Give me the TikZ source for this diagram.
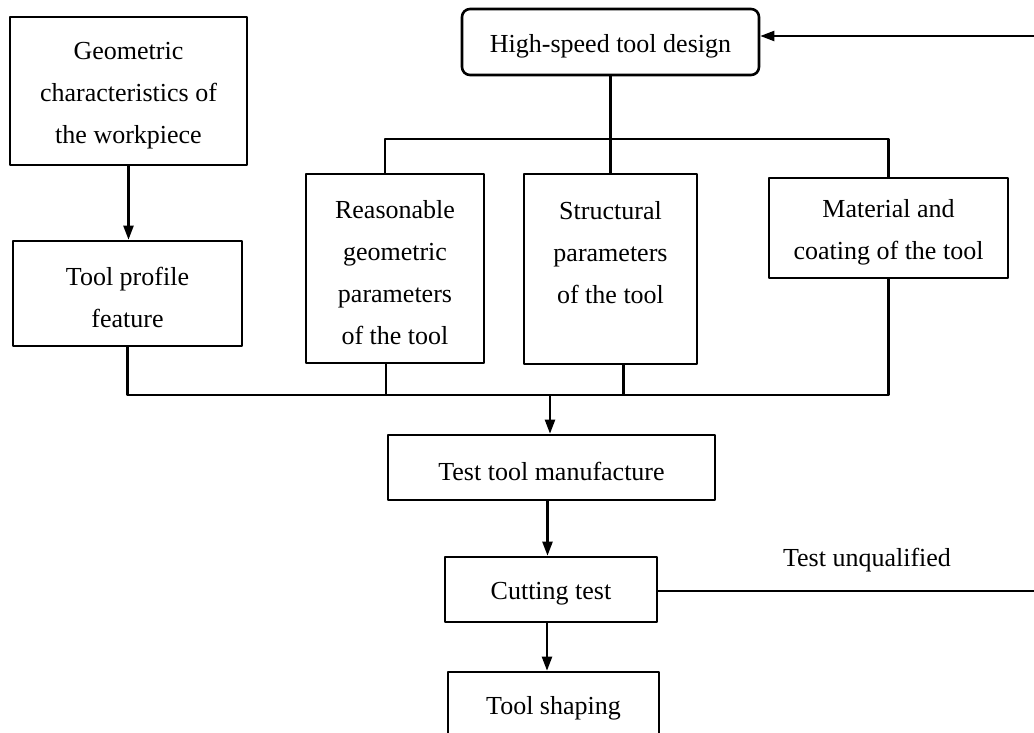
\documentclass[tikz,border=0pt]{standalone}
\usepackage{fontspec}
\setmainfont{Liberation Serif}
\usetikzlibrary{arrows.meta}
\begin{document}
\begin{tikzpicture}[x=1pt,y=-1pt, line join=round, >={Triangle[length=14pt,width=10pt]},
	box/.style={draw, line width=2.6pt, align=center, inner sep=0pt, text height=26pt, font=\fontsize{26}{42}\selectfont},
	conn/.style={line width=2.2pt}]
				\clip (0,0) rectangle (1034,733);
				%\draw[thin,color=gray!50] (0,0) grid[step=50] (1034,733);
				\node[box, text height=110pt, minimum width=237, minimum height=148] (geo) at (128.5,91) {Geometric\\characteristics of\\the workpiece};
				\node[box, text height=68pt, minimum width=229, minimum height=105] (profile) at (127.5,293.5) {Tool profile\\feature};
				\node[box, rounded corners=8pt, minimum width=297, minimum height=66] (design) at (610.5,42) {High-speed tool design};
				\node[box, text height=152pt, minimum width=178, minimum height=189] (reason) at (395,268.5) {Reasonable\\geometric\\parameters\\of the tool};
				\node[box, text height=152pt, minimum width=173, minimum height=190] (struct) at (610.5,269) {Structural\\parameters\\of the tool\\\mbox{}};
				\node[box, text height=68pt, minimum width=239, minimum height=100] (mat) at (888.5,228) {Material and\\coating of the tool};
				\node[box, minimum width=327, minimum height=65] (manuf) at (551.5,467.5) {Test tool manufacture};
				\node[box, minimum width=212, minimum height=65] (cut) at (551,589.5) {Cutting test};
				\node[box, minimum width=211, minimum height=65] (shape) at (553.5,704.5) {Tool shaping};
				\node[font=\fontsize{26}{42}\selectfont] (fail) at (867,560) {Test unqualified};
				% bus lines
				\coordinate (top) at (610.5,139);
				\coordinate (bot) at (550,395);
				\coordinate (back) at (1034,36);
				\coordinate (out) at (1034,591);
				\draw[conn, ->] (geo.south) -- (geo.south|-profile.north);
				\draw[conn] (design.south) -- (top);
				\draw[conn] ([xshift=-10pt]reason.north) |- (top) -| (mat.north);
				\draw[conn] (struct.north) -- (top);
				\draw[conn] (profile.south) |- (bot) -| (mat.south);
				\draw[conn] ([xshift=-9pt]reason.south) -- ([xshift=-9pt]reason.south|-bot);
				\draw[conn] ([xshift=13pt]struct.south) -- ([xshift=13pt]struct.south|-bot);
				\draw[conn, ->] (bot) -- (bot|-manuf.north);
				\draw[conn, ->] ([xshift=-4pt]manuf.south) -- ([xshift=-4pt]manuf.south|-cut.north);
				\draw[conn, ->] ([xshift=-4pt]cut.south) -- ([xshift=-4pt]cut.south|-shape.north);
				\draw[conn] (cut.east|-out) -- (out);
				\draw[conn, ->] (back) -- (design.east|-back);
\end{tikzpicture}
\end{document}
